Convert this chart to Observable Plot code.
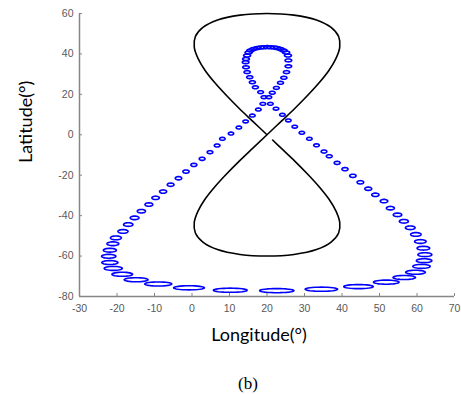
<!DOCTYPE html>
<html>
<head>
<meta charset="utf-8">
<script src="https://cdn.jsdelivr.net/npm/d3@7"></script>
<script src="https://cdn.jsdelivr.net/npm/@observablehq/plot@0.6"></script>
<style>
  body { margin: 0; background: #fff; }
  #wrap { position: relative; width: 461px; height: 394px; }
  #cap {
    position: absolute; left: 248px; top: 383px;
    transform: translate(-50%, -50%);
    font-family: "Liberation Serif", "DejaVu Serif", serif;
    font-size: 17px; line-height: 1; color: #000;
  }
</style>
</head>
<body>
<div id="wrap">
  <div id="chart"></div>
  <div id="cap">(b)</div>
</div>
<script>
// Axis ticks
const xTicks = [-30, -20, -10, 0, 10, 20, 30, 40, 50, 60, 70];
const yTicks = [-80, -60, -40, -20, 0, 20, 40, 60];

// Figure-eight ground track (black line), in travel order
const eightLon = [20.0, 16.3, 12.6, 9.2, 6.1, 3.5, 1.6, 0.6, 0.9, 2.9, 6.8, 12.8, 20.0, 27.2, 33.2, 37.1, 39.1, 39.4, 38.4, 36.5, 33.9, 30.8, 27.4, 23.7,
                  20.0, 16.3, 12.6, 9.2, 6.1, 3.5, 1.6, 0.6, 0.9, 2.9, 6.8, 12.8, 20.0, 27.2, 33.2, 37.1, 39.1, 39.4, 38.4, 36.5, 33.9, 30.8, 27.4, 23.7, 21.5];
const eightLat = [0, 6.5, 13.0, 19.4, 25.7, 31.8, 37.8, 43.4, 48.6, 53.1, 56.8, 59.2, 60.0, 59.2, 56.8, 53.1, 48.6, 43.4, 37.8, 31.8, 25.7, 19.4, 13.0, 6.5,
                  0, -6.5, -13.0, -19.4, -25.7, -31.8, -37.8, -43.4, -48.6, -53.1, -56.8, -59.2, -60.0, -59.2, -56.8, -53.1, -48.6, -43.4, -37.8, -31.8, -25.7, -19.4, -13.0, -6.5, -2.6];

// Footprint centres along the second track (blue circles), in travel order
const trackLon = [20.1, 19.2, 18.3, 17.4, 16.4, 15.6, 15.1, 14.7, 14.4, 14.3, 14.4, 14.7, 15.4, 16.1, 16.9, 18.3, 19.2,
                  20.9, 22.4, 24.1, 25.7, 27.4, 29.3, 31.3, 33.2, 35.2, 36.6, 38.7, 40.8, 42.9, 44.9, 47.0, 48.9, 51.2, 52.9, 54.8, 56.5,
                  58.2, 59.7, 60.9, 61.7, 62.1, 61.9, 61.2, 59.6, 56.6, 51.8, 44.4, 34.5, 22.6, 10.2, -0.8, -9.0, -14.9, -18.6, -21.0, -21.9,
                  -22.2, -21.9, -21.1, -20.3, -18.4, -17.0, -15.3, -13.5, -11.5, -9.7, -7.7, -5.7, -3.6, -1.6, 0.5, 2.7, 4.8, 6.7, 8.1, 10.4,
                  12.5, 14.3, 16.1, 17.7, 18.9,
                  20.5, 21.4, 22.5, 23.6, 24.5, 25.2, 25.7, 25.7, 25.6, 25.1, 24.4, 23.6, 22.7, 21.9, 20.9];
const trackLat = [43.4, 43.3, 43.2, 42.9, 42.4, 41.7, 40.7, 39.2, 37.5, 35.9, 33.4, 31.0, 28.5, 26.0, 23.5, 21.1, 18.6,
                  15.3, 12.9, 9.9, 7.1, 4.0, 1.0, -2.0, -5.2, -8.3, -10.6, -13.9, -17.0, -20.3, -23.5, -26.7, -29.7, -32.8, -36.3, -39.6, -42.8,
                  -46.0, -49.3, -52.8, -56.1, -59.3, -62.3, -65.1, -68.0, -70.6, -72.9, -75.1, -76.4, -77.1, -76.9, -75.7, -73.8, -71.7, -69.0, -66.1, -63.2,
                  -60.1, -57.1, -53.9, -51.0, -47.8, -44.4, -41.1, -37.8, -34.5, -31.2, -28.1, -24.7, -21.5, -18.2, -14.9, -11.9, -8.6, -5.3, -2.0, 0.6,
                  3.6, 6.6, 9.5, 12.5, 15.3,
                  18.6, 20.8, 23.2, 25.7, 28.2, 31.0, 33.9, 36.8, 39.2, 40.7, 41.7, 42.4, 42.9, 43.2, 43.3];

const eight = eightLon.map((lon, i) => ({lon, lat: eightLat[i]}));

// Each footprint is a small ground circle; on a lon/lat plot it stretches
// in longitude by 1/cos(latitude). Build the outlines in data space.
const SEG = 32;
const rings = [];
trackLon.forEach((lon, i) => {
  const lat = trackLat[i];
  const rLat = 0.72 - 0.0039 * Math.min(lat, 0);
  const rLon = rLat / Math.cos(lat * Math.PI / 180);
  for (let k = 0; k <= SEG; k++) {
    const t = (2 * Math.PI * k) / SEG;
    rings.push({id: i, lon: lon + rLon * Math.cos(t), lat: lat + rLat * Math.sin(t)});
  }
});

const axisGray = "#868686";
const labelGray = "#595959";
const titleFont = "Lato, 'Open Sans', sans-serif";

const chart = Plot.plot({
  width: 461,
  height: 360,
  marginLeft: 79,
  marginRight: 7,
  marginTop: 13,
  marginBottom: 64,
  style: {fontFamily: "'Liberation Sans', Arial, sans-serif", background: "#fff", overflow: "visible"},
  x: {domain: [-30, 70]},
  y: {domain: [-80, 60]},
  marks: [
    Plot.line(eight, {x: "lon", y: "lat", curve: "catmull-rom", stroke: "#000", strokeWidth: 1.6}),
    Plot.line(rings, {x: "lon", y: "lat", z: "id", stroke: "#0000ff", strokeWidth: 1.6, strokeLinejoin: "round"}),
    // axis lines
    Plot.ruleX([-30], {stroke: axisGray, strokeWidth: 1.5}),
    Plot.ruleY([-80], {stroke: axisGray, strokeWidth: 1.5}),
    // inward tick marks
    Plot.tickX(xTicks, {x: d => d, insetTop: 280, stroke: axisGray, strokeWidth: 1}),
    Plot.tickY(yTicks, {y: d => d, insetRight: 372, stroke: axisGray, strokeWidth: 1}),
    // tick labels
    Plot.axisX(xTicks, {tickSize: 0, tickPadding: 8, fontSize: 10.5, fill: labelGray, label: null, tickFormat: d => String(d)}),
    Plot.axisY(yTicks, {tickSize: 0, tickPadding: 6, fontSize: 10.5, fill: labelGray, label: null, tickFormat: d => String(d)}),
    // axis titles
    Plot.text(["Longitude(°)"], {frameAnchor: "bottom", dx: -8, dy: 44, fontSize: 18, fontFamily: titleFont, fill: "#000"}),
    Plot.text(["Latitude(°)"], {frameAnchor: "left", dx: -53, dy: 8, rotate: -90, fontSize: 18, fontFamily: titleFont, fill: "#000"})
  ]
});
document.getElementById("chart").appendChild(chart);
</script>
</body>
</html>
